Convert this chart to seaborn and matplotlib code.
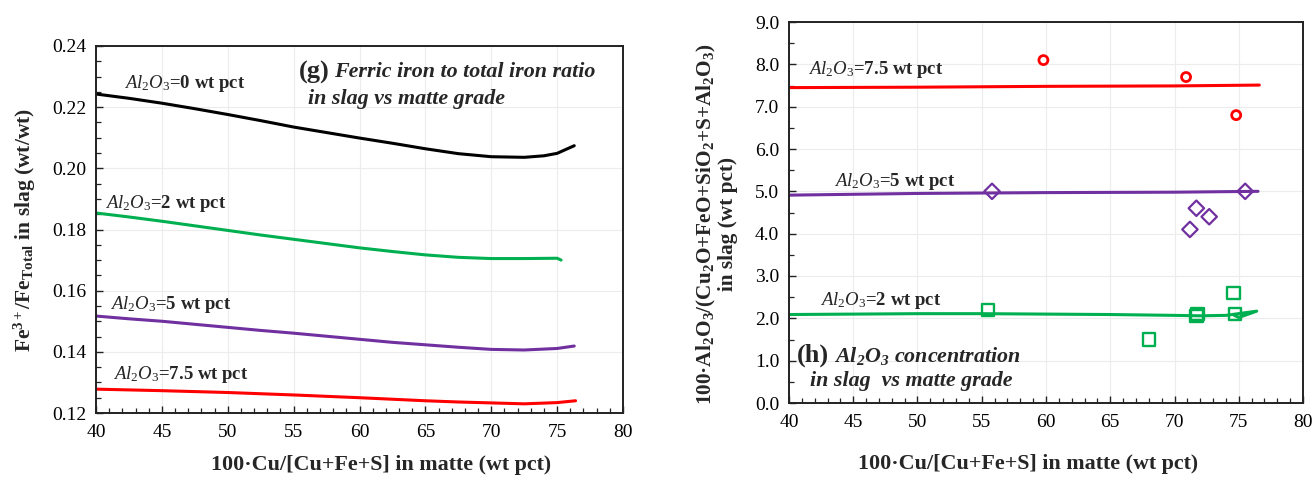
import numpy as np
import pandas as pd
import matplotlib
matplotlib.use("Agg")
import matplotlib.pyplot as plt
import seaborn as sns
from matplotlib.ticker import MultipleLocator, FormatStrFormatter

# ---------------- data: panel (g) ----------------
g_x0 = [40, 42.5, 45, 47.5, 50, 52.5, 55, 57.5, 60, 62.5, 65, 67.5, 70, 72.5, 74, 75, 76.3]
g_al0 = [0.2243, 0.2229, 0.2213, 0.2195, 0.2176, 0.2156, 0.2135, 0.2117, 0.2099,
         0.2082, 0.2064, 0.2048, 0.2038, 0.2036, 0.2041, 0.2049, 0.2074]
g_x2 = [40, 42.5, 45, 47.5, 50, 52.5, 55, 57.5, 60, 62.5, 65, 67.5, 70, 72.5, 75, 75.3]
g_al2 = [0.1854, 0.1841, 0.1827, 0.1812, 0.1797, 0.1782, 0.1768, 0.1754, 0.1740,
         0.1728, 0.1717, 0.1709, 0.1705, 0.1705, 0.1706, 0.1700]
g_x5 = [40, 42.5, 45, 47.5, 50, 52.5, 55, 57.5, 60, 62.5, 65, 67.5, 70, 72.5, 75, 76.3]
g_al5 = [0.1517, 0.1508, 0.1500, 0.1490, 0.1480, 0.1470, 0.1461, 0.1451, 0.1441,
         0.1431, 0.1423, 0.1415, 0.1408, 0.1406, 0.1411, 0.1419]
g_x75 = [40, 45, 50, 55, 60, 65, 67.5, 70, 72.5, 75, 76.4]
g_al75 = [0.1278, 0.1273, 0.1267, 0.1259, 0.1250, 0.1240, 0.1236, 0.1233, 0.1230, 0.1234, 0.1240]

# ---------------- data: panel (h) ----------------
h_line_x75 = [40, 50, 60, 70, 76.6]
h_line_y75 = [7.45, 7.46, 7.48, 7.49, 7.51]
h_line_x5 = [40, 50, 60, 70, 76.5]
h_line_y5 = [4.91, 4.95, 4.97, 4.98, 5.00]
h_line_x2 = [40, 45, 50, 55, 60, 65, 70, 72, 74, 76.4, 75.0, 74.6]
h_line_y2 = [2.09, 2.10, 2.11, 2.11, 2.10, 2.09, 2.07, 2.06, 2.07, 2.17, 2.02, 2.08]

h_pts_x75 = [59.8, 70.9, 74.8]
h_pts_y75 = [8.1, 7.7, 6.8]
h_pts_x5 = [55.8, 71.2, 71.7, 72.7, 75.5]
h_pts_y5 = [5.0, 4.1, 4.6, 4.4, 5.0]
h_pts_x2 = [55.5, 68.0, 71.8, 71.7, 74.6, 74.7]
h_pts_y2 = [2.2, 1.5, 2.1, 2.05, 2.6, 2.1]

labels_g = ["0", "2", "5", "7.5"]
labels_h = ["7.5", "5", "2"]

BLACK = "#000000"
GREEN = "#00b050"
PURPLE = "#7030a0"
RED = "#ff0000"

sns.set_theme(style="white")
plt.rcParams.update({
    "font.family": ["Liberation Serif", "DejaVu Serif"],
    "mathtext.fontset": "custom",
    "mathtext.rm": "Liberation Serif",
    "mathtext.it": "Liberation Serif:italic",
    "mathtext.bf": "Liberation Serif:bold",
    "mathtext.bfit": "Liberation Serif:italic:bold",
    "axes.edgecolor": "#222222",
    "axes.linewidth": 1.4,
    "xtick.direction": "in",
    "ytick.direction": "in",
    "xtick.color": "#222222",
    "ytick.color": "#222222",
    "xtick.labelcolor": "black",
    "ytick.labelcolor": "black",
})

fig = plt.figure(figsize=(13.12, 4.78), dpi=100)
axg = fig.add_axes([96/1312, 1-413/478, 527/1312, 367/478])
axh = fig.add_axes([789/1312, 1-403/478, 514/1312, 381/478])

def style_axes(ax):
    ax.xaxis.set_major_locator(MultipleLocator(5))
    ax.xaxis.set_minor_locator(MultipleLocator(1))
    ax.grid(True, which="major", color="#ececec", linewidth=0.8)
    ax.tick_params(which="major", length=5, width=1.0, labelsize=14,
                   top=False, right=False, bottom=True, left=True)
    ax.tick_params(axis="x", which="major", pad=8)
    ax.tick_params(axis="y", which="major", pad=7)
    ax.tick_params(which="minor", length=3.5, width=0.9,
                   top=False, right=False, bottom=True, left=True)
    for sp in ax.spines.values():
        sp.set_visible(True)
        sp.set_linewidth(1.4)
        sp.set_color("#222222")

# ---------------- panel (g) ----------------
lw = 2.2
sns.lineplot(x=g_x0, y=g_al0, ax=axg, color=BLACK, lw=lw, sort=False)
sns.lineplot(x=g_x2, y=g_al2, ax=axg, color=GREEN, lw=lw, sort=False)
sns.lineplot(x=g_x5, y=g_al5, ax=axg, color=PURPLE, lw=lw, sort=False)
sns.lineplot(x=g_x75, y=g_al75, ax=axg, color=RED, lw=lw, sort=False)
axg.set_xlim(40, 80)
axg.set_ylim(0.12, 0.24)
style_axes(axg)
axg.yaxis.set_major_locator(MultipleLocator(0.02))
axg.yaxis.set_minor_locator(MultipleLocator(0.005))
axg.yaxis.set_major_formatter(FormatStrFormatter("%.2f"))

lbl_fs = 13.5
for (tx, ty), val in zip([(42.1, 0.2277), (40.7, 0.1886), (41.1, 0.1555), (41.3, 0.1327)], labels_g):
    axg.text(tx, ty, r"$\mathit{Al_2O_3}$=" + val + " wt pct", fontsize=lbl_fs,
             fontweight="bold", ha="left", va="center")
ttl_fs = 15.8
axg.text(55.4, 0.2315, "(g)", fontsize=19, fontweight="bold", ha="left", va="center")
axg.text(58.1, 0.2315, "Ferric iron to total iron ratio", fontsize=ttl_fs,
         fontweight="bold", fontstyle="italic", ha="left", va="center")
axg.text(56.1, 0.2228, "in slag vs matte grade", fontsize=ttl_fs,
         fontweight="bold", fontstyle="italic", ha="left", va="center")

axg.set_xlabel("100·Cu/[Cu+Fe+S] in matte (wt pct)", fontsize=15.8, fontweight="bold")
axg.xaxis.set_label_coords(0.54, -0.115)
axg.set_ylabel(r"Fe$^{\mathbf{3+}}$/Fe$_{\mathbf{Total}}$ in slag (wt/wt)",
               fontsize=15.5, fontweight="bold")
axg.yaxis.set_label_coords(-0.11, 0.5)

# ---------------- panel (h) ----------------
sns.lineplot(x=h_line_x75, y=h_line_y75, ax=axh, color=RED, lw=lw, sort=False)
sns.lineplot(x=h_line_x5, y=h_line_y5, ax=axh, color=PURPLE, lw=lw, sort=False)
sns.lineplot(x=h_line_x2, y=h_line_y2, ax=axh, color=GREEN, lw=lw, sort=False)
sns.scatterplot(x=h_pts_x75, y=h_pts_y75, ax=axh, marker="o", s=42,
                fc="none", ec=RED, linewidth=2.0, zorder=5)
sns.scatterplot(x=h_pts_x5, y=h_pts_y5, ax=axh, marker="D", s=62,
                fc="none", ec=PURPLE, linewidth=1.6, zorder=5)
sns.scatterplot(x=h_pts_x2, y=h_pts_y2, ax=axh, marker="s", s=80,
                fc="none", ec=GREEN, linewidth=1.7, zorder=5)
axh.set_xlim(40, 80)
axh.set_ylim(0, 9)
style_axes(axh)
axh.yaxis.set_major_locator(MultipleLocator(1))
axh.yaxis.set_minor_locator(MultipleLocator(0.5))
axh.yaxis.set_major_formatter(FormatStrFormatter("%.1f"))

for (tx, ty), val in zip([(41.5, 7.87), (43.5, 5.24), (42.4, 2.43)], labels_h):
    axh.text(tx, ty, r"$\mathit{Al_2O_3}$=" + val + " wt pct", fontsize=lbl_fs,
             fontweight="bold", ha="left", va="center")
axh.text(40.6, 1.12, "(h)", fontsize=19, fontweight="bold", ha="left", va="center")
axh.text(43.5, 1.12, r"$\mathbfit{Al_2O_3}$ concentration", fontsize=ttl_fs,
         fontweight="bold", fontstyle="italic", ha="left", va="center")
axh.text(41.6, 0.53, "in slag  vs matte grade", fontsize=ttl_fs,
         fontweight="bold", fontstyle="italic", ha="left", va="center")

axh.set_xlabel("100·Cu/[Cu+Fe+S] in matte (wt pct)", fontsize=15.8, fontweight="bold")
axh.xaxis.set_label_coords(0.465, -0.135)
axh.set_ylabel(r"100·Al$_{\mathbf{2}}$O$_{\mathbf{3}}$/(Cu$_{\mathbf{2}}$O+FeO+SiO$_{\mathbf{2}}$+S+Al$_{\mathbf{2}}$O$_{\mathbf{3}}$)"
               "\nin slag (wt pct)", fontsize=15.3, fontweight="bold", linespacing=1.0)
axh.yaxis.set_label_coords(-0.10, 0.47)

fig.savefig("out.png", dpi=100)
